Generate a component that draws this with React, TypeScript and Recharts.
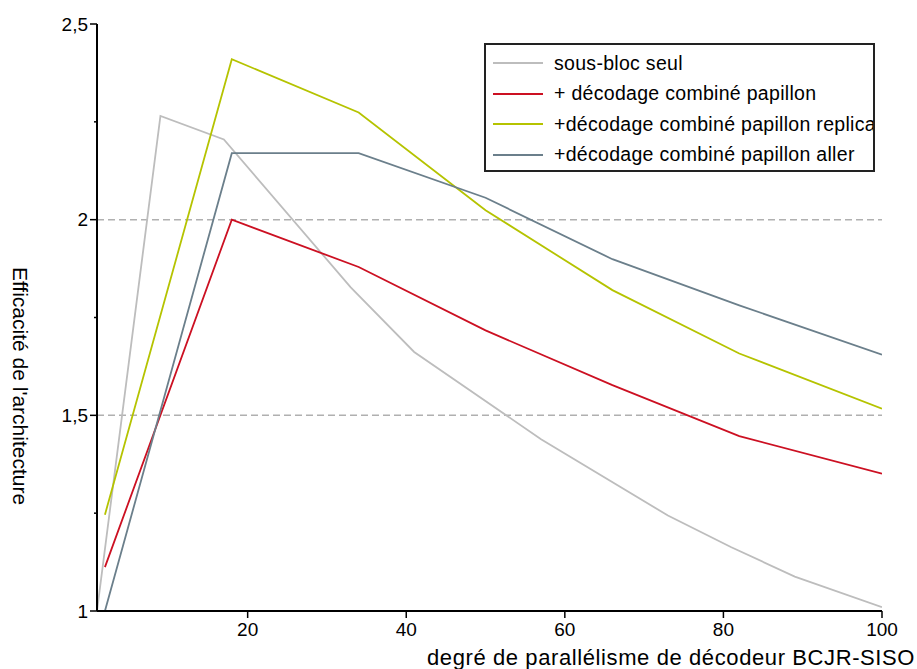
import { LineChart, Line, XAxis, YAxis, ReferenceLine, Legend } from "recharts";

// degré de parallélisme (x) and efficacité (y)
const grayX = [1, 9, 17, 33, 41, 57, 73, 81, 89, 100];
const grayY = [1.0, 2.265, 2.205, 1.827, 1.662, 1.439, 1.244, 1.163, 1.088, 1.01];

const mainX = [2, 18, 34, 50, 66, 82, 100];
const redY = [1.112, 2.0, 1.879, 1.717, 1.577, 1.447, 1.351];
const yellowY = [1.246, 2.41, 2.274, 2.024, 1.82, 1.658, 1.517];
const slateY = [1.0, 2.17, 2.17, 2.056, 1.899, 1.781, 1.655];

const xTicks = [20, 40, 60, 80, 100];
const yTicks = [1, 1.25, 1.5, 1.75, 2, 2.25, 2.5];
const gridValues = [1.5, 2];

const series = [
  { name: "sous-bloc seul", xs: grayX, ys: grayY, color: "#bdbdbd" },
  { name: "+ décodage combiné papillon", xs: mainX, ys: redY, color: "#cc1022" },
  { name: "+décodage combiné papillon replica", xs: mainX, ys: yellowY, color: "#b5c300" },
  { name: "+décodage combiné papillon aller", xs: mainX, ys: slateY, color: "#6b7f8b" },
];
const seriesOrder = series.map((s) => s.name);

const toPoints = (xs: number[], ys: number[]) => xs.map((x, i) => ({ x, y: ys[i] }));

const fmt = (v: number) => String(v).replace(".", ",");

function YTick(props: any) {
  const { x, y, payload } = props;
  const v = payload.value as number;
  const major = Number.isInteger(v * 2);
  const axisX = x + 9;
  return (
    <g>
      <line x1={axisX - (major ? 7 : 3)} x2={axisX} y1={y} y2={y} stroke="#000" strokeWidth={1.5} />
      {major && (
        <text x={x} y={y} dy="0.35em" textAnchor="end" fontSize={19} fill="#000">
          {fmt(v)}
        </text>
      )}
    </g>
  );
}

function LegendBox(props: any) {
  const payload = [...(props.payload || [])].sort(
    (a: any, b: any) => seriesOrder.indexOf(a.value) - seriesOrder.indexOf(b.value)
  );
  return (
    <div
      style={{
        border: "2px solid #222",
        width: 391,
        height: 129,
        boxSizing: "border-box",
        background: "#fff",
        paddingTop: 3,
        overflow: "hidden",
      }}
    >
      {payload.map((p: any) => (
        <div key={p.value} style={{ display: "flex", alignItems: "center", height: 30.5, whiteSpace: "nowrap" }}>
          <span style={{ display: "inline-block", flex: "none", width: 50, height: 2, background: p.color, marginLeft: 7, marginRight: 11 }} />
          <span style={{ fontSize: 19.5, color: "#000", letterSpacing: 0.3 }}>{p.value}</span>
        </div>
      ))}
    </div>
  );
}

export default function App() {
  return (
    <div
      style={{
        position: "absolute",
        left: 0,
        top: 0,
        width: 917,
        height: 669,
        overflow: "hidden",
        background: "#fff",
        fontFamily: "'Liberation Sans', Arial, sans-serif",
      }}
    >
      <LineChart width={917} height={669} margin={{ top: 24, right: 35, bottom: 0, left: 0 }}>
        <XAxis
          type="number"
          dataKey="x"
          domain={[1, 100]}
          ticks={xTicks}
          height={58}
          tickSize={7}
          tickMargin={5}
          tick={{ fontSize: 19, fill: "#000" }}
          axisLine={{ stroke: "#000", strokeWidth: 2 }}
          tickLine={{ stroke: "#000", strokeWidth: 1.5 }}
          allowDataOverflow
        />
        <XAxis
          xAxisId="top"
          orientation="top"
          type="number"
          domain={[1, 100]}
          height={0}
          tick={false}
          tickLine={false}
          axisLine={{ stroke: "#000", strokeWidth: 2 }}
        />
        <YAxis
          type="number"
          domain={[1, 2.5]}
          ticks={yTicks}
          width={97}
          tickSize={7}
          tickMargin={2}
          tickLine={false}
          tick={<YTick />}
          axisLine={{ stroke: "#000", strokeWidth: 2 }}
          interval={0}
        />
        <YAxis
          yAxisId="right"
          orientation="right"
          type="number"
          domain={[1, 2.5]}
          width={0}
          tick={false}
          tickLine={false}
          axisLine={{ stroke: "#000", strokeWidth: 2 }}
        />
        {gridValues.map((g) => (
          <ReferenceLine key={g} y={g} stroke="#b0b0b0" strokeWidth={1.5} strokeDasharray="7 4" />
        ))}
        {series.map((s) => (
          <Line
            key={s.name}
            name={s.name}
            data={toPoints(s.xs, s.ys)}
            dataKey="y"
            type="linear"
            stroke={s.color}
            strokeWidth={1.8}
            dot={false}
            activeDot={false}
            isAnimationActive={false}
          />
        ))}
        <Legend
          layout="vertical"
          align="center"
          verticalAlign="middle"
          content={<LegendBox />}
          wrapperStyle={{ position: "absolute", left: 484, top: 43, width: 392, height: 130 }}
        />
        <text x={20} y={386} transform="rotate(90 20 386)" textAnchor="middle" dominantBaseline="central" fontSize={21} fill="#000">
          Efficacité de l'architecture
        </text>
        <text x={427} y={665} textAnchor="start" fontSize={22} fill="#000" letterSpacing={0.6}>
          degré de parallélisme de décodeur BCJR-SISO
        </text>
      </LineChart>
    </div>
  );
}
